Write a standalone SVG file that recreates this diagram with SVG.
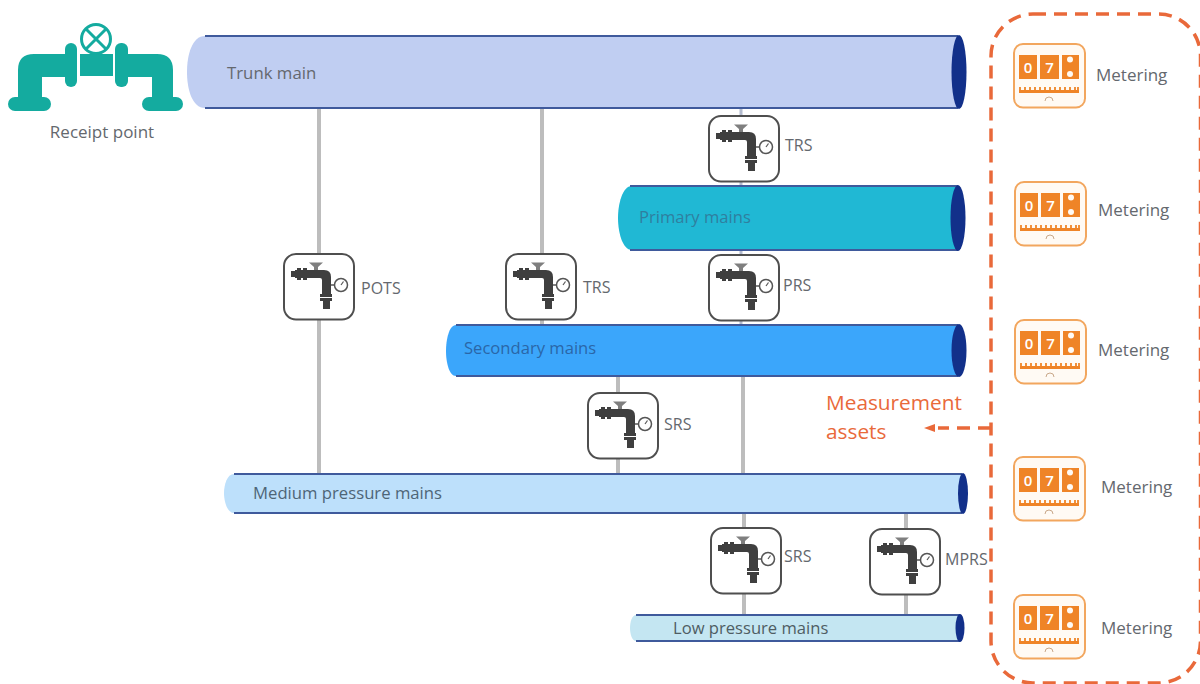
<svg xmlns="http://www.w3.org/2000/svg" width="1200" height="684" viewBox="0 0 1200 684">
<style>
text{font-family:"Open Sans","Noto Sans","Liberation Sans",sans-serif;fill:#64686e;font-size:16px}
.edge{stroke:#3f5a9c;stroke-width:2;fill:none}
.cap{fill:#12308a}
.conn{stroke:#bdbdbd;stroke-width:4;fill:none}
.thin{stroke:#b4bccf;stroke-width:3;fill:none}
.dash{stroke:#e9693a;stroke-width:3.500;fill:none;stroke-dasharray:13 8}
.vbox{fill:#fff;stroke:#4f4f4f;stroke-width:2}
.vd{fill:#3f3f3f}
.teal{fill:#14ab9f}
.m{fill:#ef8427}
.mt{font-size:15px;font-weight:600;fill:#fff}
.met{font-size:17px}
</style>
<defs>
<g id="valve">
<rect class="vbox" x="1" y="1" width="70" height="65.500" rx="12"/>
<rect class="vd" x="8" y="18" width="4" height="6"/>
<rect class="vd" x="14" y="15" width="4" height="12"/>
<rect class="vd" x="20" y="15" width="4" height="12"/>
<path class="vd" d="M12 17H41Q48 17 48 24V41H39V27Q39 25 37 25H12Z"/>
<rect class="vd" x="37" y="41" width="12" height="3"/>
<rect class="vd" x="37" y="45" width="12" height="3"/>
<rect class="vd" x="40" y="48" width="7" height="8"/>
<path d="M26 9.500H40L35 14V17H31V14Z" fill="#7f7f7f"/>
<circle cx="58" cy="32" r="6.500" fill="#fff" stroke="#555" stroke-width="1.500"/>
<path d="M58 32l2.500-3.500" stroke="#555" stroke-width="1.200"/>
<path d="M48 32h3.500" stroke="#555" stroke-width="1.500"/>
</g>
<g id="meter">
<rect x="1" y="1" width="71" height="63.500" rx="9" fill="#fffaf4" stroke="#f2a65e" stroke-width="2"/>
<rect class="m" x="6" y="12" width="18" height="24"/>
<rect class="m" x="27" y="12" width="19" height="24"/>
<rect class="m" x="49" y="12" width="17" height="24"/>
<text class="mt" x="15" y="29.500" text-anchor="middle">0</text>
<text class="mt" x="36.500" y="29.500" text-anchor="middle">7</text>
<circle cx="57" cy="16.500" r="3" fill="#fffaf4"/>
<circle cx="57" cy="31" r="3" fill="#fffaf4"/>
<rect class="m" x="6" y="47" width="60" height="3"/>
<path d="M7 47v-3M12 47v-3M17 47v-3M22 47v-3M27 47v-3M32 47v-3M37 47v-3M42 47v-3M47 47v-3M52 47v-3M57 47v-3M62 47v-3M65 47v-3" stroke="#ef8427" stroke-width="1.800"/>
<path d="M32 58a4 4 0 0 1 8 0" fill="none" stroke="#c9a88a" stroke-width="1"/>
</g>
</defs>

<g id="connectors">
<path class="conn" d="M319 109V473M542 109V324M618 377V473M743 377V473M744 514V614M906 514V614"/>
<path class="thin" d="M741 109V185M741 251V324"/>
<path class="dash" d="M991 428H938"/>
<path d="M924 428l11-4v8z" fill="#e9693a"/>
</g>

<g id="receipt-point">
<rect class="teal" x="65" y="43" width="12" height="44" rx="6"/>
<path class="teal" d="M66 54H34Q18 54 18 70V98H42V77H66Z"/>
<rect class="teal" x="8" y="97" width="43" height="14" rx="7"/>
<rect class="teal" x="115" y="43" width="13" height="44" rx="6"/>
<path class="teal" d="M127 54H157Q173 54 173 70V98H152V77H127Z"/>
<rect class="teal" x="142" y="97" width="41" height="14" rx="7"/>
<rect class="teal" x="80" y="54" width="33" height="22"/>
<circle cx="96" cy="39" r="14.500" fill="#fff" stroke="#14ab9f" stroke-width="3"/>
<path d="M86 29l20 20M106 29l-20 20" stroke="#14ab9f" stroke-width="3"/>
<text x="102" y="138" text-anchor="middle" style="font-size:17px">Receipt point</text>
</g>

<g id="trunk-main">
<path fill="#c0cef2" d="M960 36H205C192 36 187 55 187 72s5 36 18 36H960z"/>
<path class="edge" d="M205 36H958M205 108H958"/>
<ellipse class="cap" cx="959" cy="72" rx="7.500" ry="37"/>
<text x="227" y="79" style="font-size:16.800px">Trunk main</text>
</g>
<g id="primary-mains">
<path fill="#20b8d4" d="M958 186H632C622 186 618 205 618 218s4 32 14 32H958z"/>
<path class="edge" d="M630 186H958M630 250H958"/>
<ellipse class="cap" cx="958" cy="218" rx="7.500" ry="33"/>
<text x="639" y="223" style="font-size:16.600px;fill:#2f7f9f">Primary mains</text>
</g>
<g id="secondary-mains">
<path fill="#3ba6fb" d="M958 325H456C449 325 446 340 446 351s3 25 10 25H958z"/>
<path class="edge" d="M456 325H958M456 376H958"/>
<ellipse class="cap" cx="959" cy="350.500" rx="7.500" ry="26.500"/>
<text x="464" y="354" style="font-size:16.600px;fill:#2a66a8">Secondary mains</text>
</g>
<g id="medium-pressure-mains">
<path fill="#bde0fb" d="M962 474H234C227 474 224 485 224 493s3 20 10 20H962z"/>
<path class="edge" d="M234 474H962M234 513H962"/>
<ellipse class="cap" cx="963" cy="493.500" rx="5" ry="20.500"/>
<text x="253" y="499" style="font-size:16.700px;fill:#4e6577">Medium pressure mains</text>
</g>
<g id="low-pressure-mains">
<path fill="#c4e6f2" d="M960 615H636C632 615 630 622 630 628s2 13 6 13H960z"/>
<path class="edge" d="M636 615H960M636 641H960"/>
<ellipse class="cap" cx="960" cy="628" rx="4.500" ry="14"/>
<text x="673" y="634" style="font-size:16.600px;fill:#4f5d63">Low pressure mains</text>
</g>

<g id="trs-1"><use href="#valve" x="708" y="115"/><text x="785" y="151">TRS</text></g>
<g id="pots"><use href="#valve" x="283" y="253"/><text x="361" y="294">POTS</text></g>
<g id="trs-2"><use href="#valve" x="505" y="253"/><text x="583" y="293">TRS</text></g>
<g id="prs"><use href="#valve" x="708" y="254"/><text x="783" y="291">PRS</text></g>
<g id="srs-1"><use href="#valve" x="587" y="392"/><text x="664" y="430">SRS</text></g>
<g id="srs-2"><use href="#valve" x="710" y="527"/><text x="784" y="562">SRS</text></g>
<g id="mprs"><use href="#valve" x="869" y="528"/><text x="945" y="565">MPRS</text></g>

<g id="measurement-assets">
<rect class="dash" x="991" y="14" width="209.500" height="669" rx="42"/>
<text x="826" y="410" style="fill:#e9693a;font-size:20.800px">Measurement</text>
<text x="826" y="439" style="fill:#e9693a;font-size:20.800px">assets</text>
</g>

<g id="metering-1"><use href="#meter" x="1013" y="43"/><text class="met" x="1096" y="81">Metering</text></g>
<g id="metering-2"><use href="#meter" x="1014" y="181"/><text class="met" x="1098" y="216">Metering</text></g>
<g id="metering-3"><use href="#meter" x="1014" y="319"/><text class="met" x="1098" y="356">Metering</text></g>
<g id="metering-4"><use href="#meter" x="1013" y="456"/><text class="met" x="1101" y="493">Metering</text></g>
<g id="metering-5"><use href="#meter" x="1013" y="594"/><text class="met" x="1101" y="634">Metering</text></g>
</svg>
